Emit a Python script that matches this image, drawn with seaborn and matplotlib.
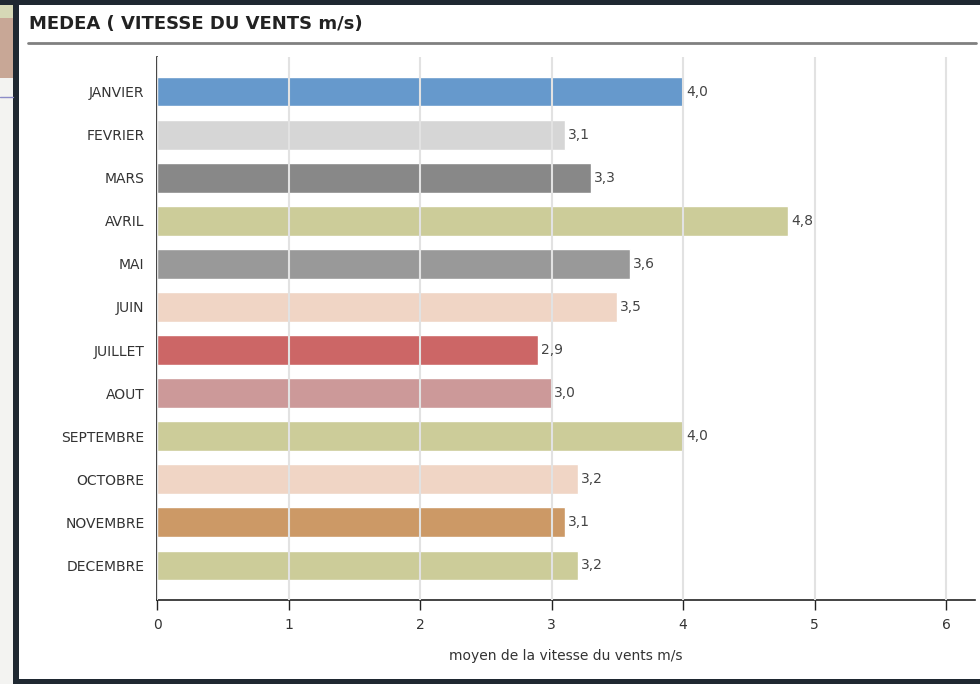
import matplotlib
matplotlib.use("Agg")
import matplotlib.pyplot as plt
import seaborn as sns
import pandas as pd
from matplotlib.patches import Rectangle
from matplotlib.lines import Line2D

# ======= data =======
months = ['JANVIER', 'FEVRIER', 'MARS', 'AVRIL', 'MAI', 'JUIN', 'JUILLET',
          'AOUT', 'SEPTEMBRE', 'OCTOBRE', 'NOVEMBRE', 'DECEMBRE']
speeds = [4.0, 3.1, 3.3, 4.8, 3.6, 3.5, 2.9, 3.0, 4.0, 3.2, 3.1, 3.2]
bar_colors = ['#6699cc', '#d6d6d6', '#888888', '#cccc99', '#999999', '#f0d5c5',
              '#cc6666', '#cc9999', '#cccc99', '#f0d5c5', '#cc9966', '#cccc99']
x_ticks = [0, 1, 2, 3, 4, 5, 6]

df = pd.DataFrame({'mois': months, 'vitesse': speeds})

sns.set_style('white')
plt.rcParams['font.family'] = ['DejaVu Sans']

W, H = 980, 684
fig = plt.figure(figsize=(W / 100, H / 100), dpi=100)
fig.patch.set_facecolor('white')

# ======= frame / slide background =======
def px_rect(x0, y0, x1, y1, color, z=0):
    fig.patches.append(Rectangle((x0 / W, 1 - y1 / H), (x1 - x0) / W, (y1 - y0) / H,
                                 transform=fig.transFigure, facecolor=color,
                                 edgecolor='none', zorder=z))

px_rect(0, 0, 14, H, '#f3f3f1')
px_rect(0, 0, 14, 18, '#d6d8b6')
px_rect(0, 18, 14, 78, '#c8a796')
px_rect(0, 0, W, 5, '#1f2831', 1)
px_rect(13, 0, 19, H, '#1f2831', 1)
px_rect(13, 679, W, H, '#1f2831', 1)
fig.lines.append(Line2D([0, 13 / W], [1 - 97 / H, 1 - 97 / H], transform=fig.transFigure,
                        color='#8c8cc8', lw=1))

# title + underline
fig.text(29 / W, 1 - 24 / H, 'MEDEA ( VITESSE DU VENTS m/s)', fontsize=13,
         fontweight='bold', color='#222222', va='center', ha='left')
fig.lines.append(Line2D([28 / W, 976 / W], [1 - 43 / H, 1 - 43 / H],
                        transform=fig.transFigure, color='#808080', lw=2))

# ======= chart =======
left, right, top, bottom = 157, 975, 57, 600
ax = fig.add_axes([left / W, 1 - bottom / H, (right - left) / W, (bottom - top) / H])

sns.barplot(data=df, x='vitesse', y='mois', hue='mois', palette=bar_colors,
            orient='h', width=0.68, legend=False, ax=ax, saturation=1)

for cont, v in zip(ax.containers, speeds):
    ax.bar_label(cont, labels=[f"{v:.1f}".replace('.', ',')], padding=2,
                 fontsize=10, color='#444444')

ax.set_xlim(0, 6.22)
ax.set_ylim(11.81, -0.81)
ax.set_xticks(x_ticks)
ax.set_xlabel('moyen de la vitesse du vents m/s', fontsize=10, color='#333333', labelpad=12)
ax.set_ylabel('')

ax.set_axisbelow(False)
ax.grid(axis='x', color='#e2e2e2', lw=1.5)
ax.grid(axis='y', visible=False)

for s in ['top', 'right']:
    ax.spines[s].set_visible(False)
ax.spines['left'].set_color('#222222')
ax.spines['bottom'].set_color('#222222')
ax.spines['left'].set_linewidth(1.2)
ax.spines['bottom'].set_linewidth(1.2)

ax.tick_params(axis='x', direction='out', length=7, width=1, color='#222222',
               labelsize=10, labelcolor='#333333', pad=6, bottom=True)
ax.tick_params(axis='y', length=0, labelsize=10, labelcolor='#333333', pad=9)

plt.savefig('out.png', dpi=100)
